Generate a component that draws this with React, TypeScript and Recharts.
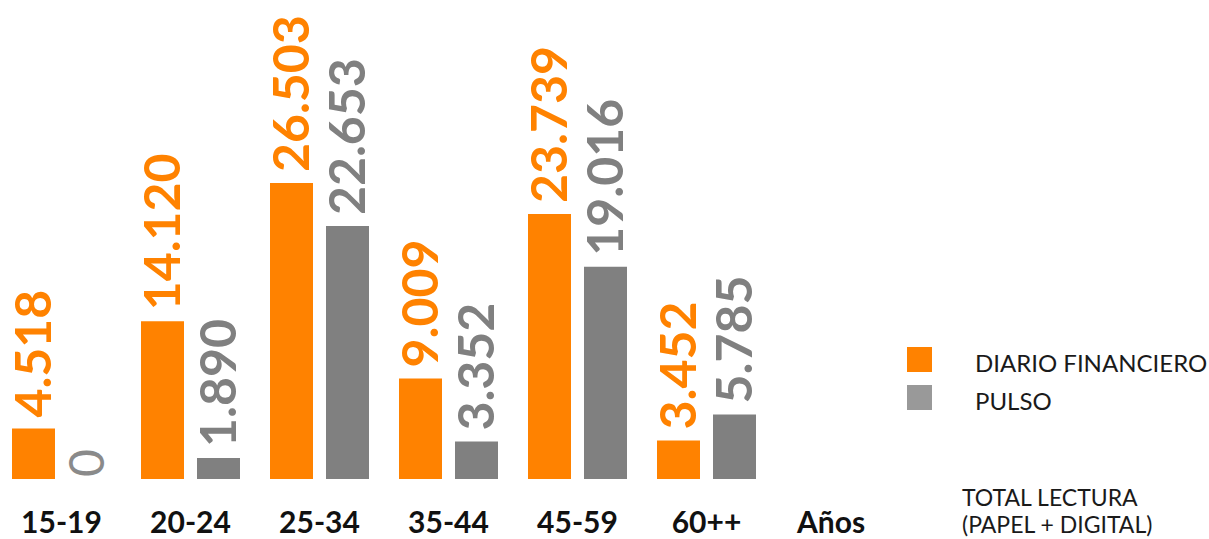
import { BarChart, Bar, XAxis, YAxis, Legend } from "recharts";

const CATEGORIES = ["15-19", "20-24", "25-34", "35-44", "45-59", "60++"];
const DIARIO_FINANCIERO = [4518, 14120, 26503, 9009, 23739, 3452];
const PULSO = [0, 1890, 22653, 3352, 19016, 5785];
const SERIES_NAMES = ["DIARIO FINANCIERO", "PULSO"];
const AXIS_TITLE = "Años";
const NOTE_LINES = ["TOTAL LECTURA", "(PAPEL + DIGITAL)"];

const ORANGE = "#FF8200";
const GRAY = "#808080";
const LEGEND_COLORS = [ORANGE, "#999999"];
const FONT = "Lato, 'DejaVu Sans', sans-serif";

const chartData = CATEGORIES.map((c, i) => ({
  name: c,
  df: DIARIO_FINANCIERO[i],
  pulso: PULSO[i],
}));

// 26503 -> "26.503"
const fmt = (v: number) => String(v).replace(/\B(?=(\d{3})+(?!\d))/g, ".");

// vertical value label sitting just above the bar; zero gets a lighter, thinner style
const valueLabel = (color: string) => (props: any) => {
  const { x, y, width, height, value } = props;
  const v = Array.isArray(value) ? value[value.length - 1] : value;
  const cx = Number(x) + Number(width) / 2;
  const zero = Number(v) === 0;
  const top = Number(y) + (zero ? Number(height) : 0);
  const ty = top - (zero ? 2 : 11);
  return (
    <text
      x={cx}
      y={ty}
      dy={zero ? 14 : 18}
      transform={`rotate(-90 ${cx} ${ty})`}
      textAnchor="start"
      fill={zero ? "#8a8a8a" : color}
      fontSize={zero ? 48 : 50}
      fontWeight={zero ? 400 : 700}
      fontFamily={FONT}
    >
      {fmt(Number(v))}
    </text>
  );
};

const renderTick = (props: any) => {
  const { x, y, payload } = props;
  return (
    <text x={x} y={y} dy={54} textAnchor="middle" fontSize={30} fontWeight={700} fill="#111" fontFamily={FONT}>
      {payload.value}
    </text>
  );
};

const renderAxisTitle = (props: any) => {
  const vb = props.viewBox || {};
  return (
    <text
      x={vb.x + vb.width + 60}
      y={vb.y}
      dy={54}
      textAnchor="middle"
      fontSize={30}
      fontWeight={700}
      fill="#111"
      fontFamily={FONT}
    >
      {AXIS_TITLE}
    </text>
  );
};

const renderLegend = () => (
  <div style={{ fontFamily: FONT, color: "#1a1a1a", whiteSpace: "nowrap" }}>
    {SERIES_NAMES.map((n, i) => (
      <div key={n} style={{ display: "flex", alignItems: "center", height: 25, marginBottom: 13 }}>
        <span style={{ width: 25, height: 25, background: LEGEND_COLORS[i], display: "inline-block", flex: "none" }} />
        <span style={{ marginLeft: 43, fontSize: 24, transform: "translateY(3px)" }}>{n}</span>
      </div>
    ))}
    <div style={{ marginTop: 74, marginLeft: 55, fontSize: 23, lineHeight: "27px" }}>
      {NOTE_LINES.map((l) => (
        <div key={l}>{l}</div>
      ))}
    </div>
  </div>
);

export default function App() {
  return (
    <div style={{ position: "absolute", left: -3, top: 0 }}>
      <BarChart
        width={1212}
        height={539}
        data={chartData}
        margin={{ top: 144, right: 438, left: 0, bottom: 0 }}
        barSize={43}
        barGap={13}
      >
        <XAxis
          dataKey="name"
          axisLine={false}
          tickLine={false}
          tickSize={0}
          tickMargin={0}
          height={60}
          interval={0}
          tick={renderTick}
          label={{ content: renderAxisTitle }}
        />
        <YAxis hide domain={[0, 30000]} />
        <Legend
          layout="vertical"
          align="center"
          verticalAlign="middle"
          content={renderLegend}
          wrapperStyle={{ left: 910, top: 347, width: 300 }}
        />
        <Bar
          dataKey="df"
          name={SERIES_NAMES[0]}
          fill={ORANGE}
          isAnimationActive={false}
          label={valueLabel(ORANGE)}
        />
        {/* tiny min size so the zero bar still gets its label */}
        <Bar
          dataKey="pulso"
          name={SERIES_NAMES[1]}
          fill={GRAY}
          isAnimationActive={false}
          minPointSize={(v: any) => (Number(v) === 0 ? 0.01 : 0)}
          label={valueLabel(GRAY)}
        />
      </BarChart>
    </div>
  );
}
